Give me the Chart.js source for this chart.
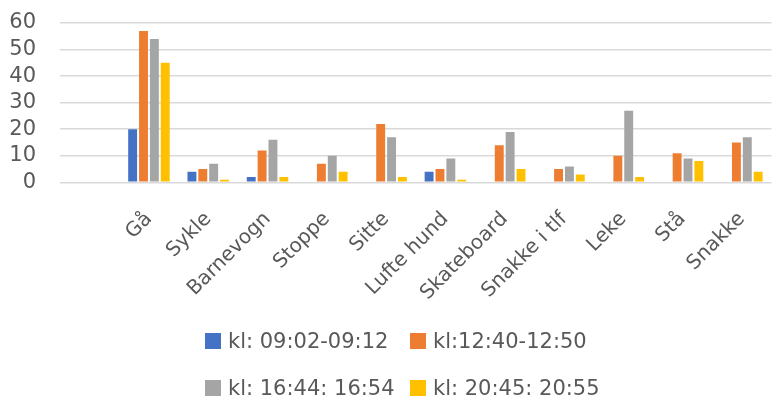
<!DOCTYPE html>
<html>
<head>
<meta charset="utf-8">
<script src="https://cdn.jsdelivr.net/npm/chart.js@4/dist/chart.umd.min.js"></script>
<style>
    html, body { margin: 0; padding: 0; background: #ffffff; overflow: hidden; }
    #page { position: relative; width: 776px; height: 396px; overflow: hidden; }
    #chartBox { position: absolute; left: 0; top: 0; width: 784px; height: 343px; }
    .legendItem { position: absolute; height: 22px; font-family: "DejaVu Sans", sans-serif; font-size: 21px; color: #595959; white-space: nowrap; line-height: 22px; }
    .legendBox { position: absolute; left: 0; top: 3px; width: 16px; height: 16px; }
    .legendText { position: absolute; left: 23px; top: 0; }
</style>
</head>
<body>
<div id="page">
    <div id="chartBox"><canvas id="chart_activities"></canvas></div>
    <div id="legend"></div>
</div>
<script>
/* ----------------------------------------------------------------------------
                                     INIT
---------------------------------------------------------------------------- */
var activities = ['', 'Gå', 'Sykle', 'Barnevogn', 'Stoppe', 'Sitte', 'Lufte hund', 'Skateboard', 'Snakke i tlf', 'Leke', 'Stå', 'Snakke'];

var seriesNames = ['kl: 09:02-09:12', 'kl:12:40-12:50', 'kl: 16:44: 16:54', 'kl: 20:45: 20:55'];
var seriesColors = ['#4472C4', '#ED7D31', '#A5A5A5', '#FFC000'];

var morning   = [null, 20, 4, 2, 0, 0, 4, 0, 0, 0, 0, 0];
var midday    = [null, 57, 5, 12, 7, 22, 5, 14, 5, 10, 11, 15];
var afternoon = [null, 54, 7, 16, 10, 17, 9, 19, 6, 27, 9, 17];
var evening   = [null, 45, 1, 2, 4, 2, 1, 5, 3, 2, 8, 4];

var yTicks = [0, 10, 20, 30, 40, 50, 60];

var textColor = '#595959';
var gridColor = '#D9D9D9';

const ctx_activities = document.getElementById('chart_activities').getContext('2d');

/* ----------------------------------------------------------------------------
                                    MAIN
---------------------------------------------------------------------------- */

// Chart ----------------------------------------------------------------------
var seriesValues = [morning, midday, afternoon, evening];
var datasets = seriesValues.map(function(values, i) {
    return {
        label: seriesNames[i],
        data: values,
        backgroundColor: seriesColors[i],
        borderWidth: 0,
        categoryPercentage: 0.733,
        barPercentage: 0.82
    };
});

const chartActivities = new Chart(ctx_activities, {
    type: 'bar',
    data: {
        labels: activities,
        datasets: datasets
    },
    options: {
        responsive: true,
        maintainAspectRatio: false,
        animation: false,
        layout: {
            padding: { top: 23, left: 0, right: 4, bottom: 13 }
        },
        plugins: {
            legend: { display: false },
            tooltip: { enabled: false }
        },
        scales: {
            x: {
                grid: { display: false, drawTicks: false },
                border: { display: false },
                ticks: {
                    color: textColor,
                    font: { family: 'DejaVu Sans', size: 20 },
                    minRotation: 45,
                    maxRotation: 45,
                    autoSkip: false,
                    padding: 25
                }
            },
            y: {
                min: yTicks[0],
                max: yTicks[yTicks.length - 1],
                // invisible tick marks keep the labels 24px off the grid
                grid: { color: gridColor, lineWidth: 1.5, drawTicks: true, tickLength: 24, tickColor: 'rgba(0,0,0,0)' },
                border: { display: false },
                ticks: {
                    stepSize: yTicks[1] - yTicks[0],
                    autoSkip: false,
                    color: textColor,
                    font: { family: 'DejaVu Sans', size: 21 },
                    padding: 0
                },
                // fixed axis width so the plot starts at x = 60
                afterFit: function(scale) {
                    scale.width = 60;
                }
            }
        }
    }
});

// Legend, two rows of two ----------------------------------------------------
var legend = document.getElementById('legend');
var legendLeft = [205, 410];
var legendTop = [330, 377];
seriesNames.forEach(function(name, i) {
    var item = document.createElement('div');
    item.className = 'legendItem';
    item.style.left = legendLeft[i % 2] + 'px';
    item.style.top = legendTop[Math.floor(i / 2)] + 'px';
    item.innerHTML = '<span class="legendBox" style="background:' + seriesColors[i] + '"></span>' +
                     '<span class="legendText">' + name + '</span>';
    legend.appendChild(item);
});
</script>
</body>
</html>
